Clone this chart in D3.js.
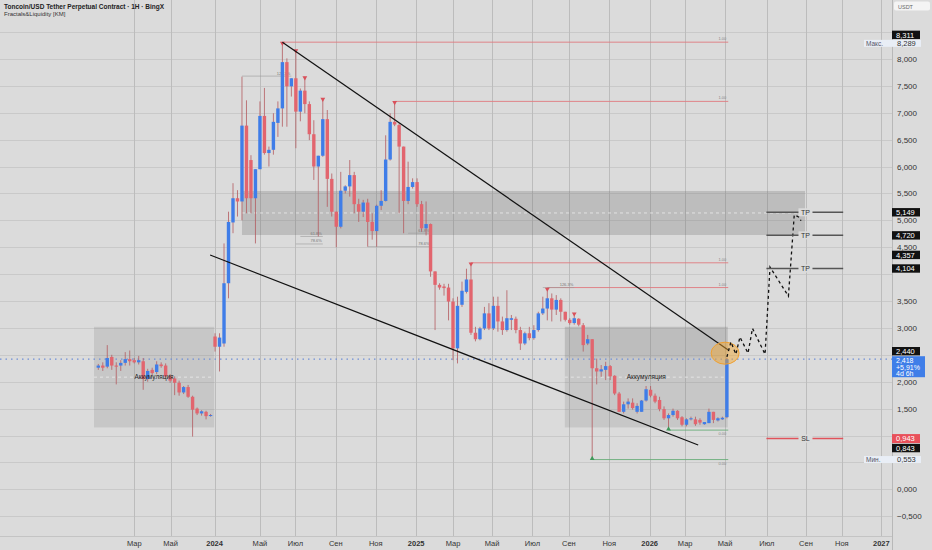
<!DOCTYPE html>
<html>
<head>
<meta charset="utf-8">
<script src="https://cdn.jsdelivr.net/npm/d3@7"></script>
<style>
  body { margin: 0; background: #dbdbdb; }
  svg { display: block; font-family: "Liberation Sans", Arial, sans-serif; }
</style>
</head>
<body>
<div id="chart"></div>
<script>
var W = 932, H = 550;
var plotRight = 892, axisBottom = 536;

// weekly candles, index 0..140
var open = [
2.26,2.30,2.28,2.46,2.30,2.30,2.35,2.42,2.40,2.36,
2.38,2.05,2.22,2.18,2.32,2.30,2.10,2.06,1.98,1.80,
1.90,1.72,1.50,1.41,1.44,1.37,2.84,2.65,2.71,3.83,
4.96,5.41,5.35,6.76,6.12,5.41,5.95,6.94,6.25,6.31,
6.81,7.08,7.94,7.49,7.64,7.02,7.41,7.16,6.60,6.00,
6.20,6.88,5.77,5.16,4.88,5.55,5.63,5.84,5.30,5.16,
5.33,4.97,4.80,5.27,5.36,6.13,6.83,6.77,6.37,5.36,
5.62,5.71,5.30,4.85,4.93,4.05,3.80,3.77,3.75,3.49,
2.62,3.43,3.67,3.90,2.91,2.79,2.99,3.27,2.99,3.41,
3.12,2.96,3.15,3.17,2.96,2.71,2.90,2.81,2.96,3.27,
3.36,3.55,3.34,3.52,3.30,3.15,3.09,3.17,3.05,2.71,
2.79,2.25,2.19,2.22,2.29,2.11,1.78,1.44,1.58,1.61,
1.44,1.44,1.65,1.85,1.74,1.66,1.49,1.32,1.38,1.46,
1.34,1.20,1.30,1.30,1.29,1.21,1.23,1.44,1.28,1.30,
1.34];
var high = [
2.33,2.36,2.68,2.50,2.36,2.40,2.55,2.58,2.44,2.48,
2.44,2.24,2.26,2.38,2.36,2.34,2.14,2.10,2.02,1.92,
1.94,1.74,1.52,1.47,1.46,1.40,2.90,2.90,4.57,5.16,
5.69,5.56,7.67,7.23,6.21,5.95,7.21,7.46,6.37,6.99,
7.21,8.311,8.01,7.64,8.17,7.45,7.67,7.21,6.86,6.20,
7.27,7.05,5.87,5.16,5.90,5.65,6.12,5.90,5.40,5.38,
5.40,5.13,5.29,5.56,6.58,6.99,7.21,6.80,6.37,6.09,
5.78,5.78,5.36,5.35,4.94,4.05,3.83,3.82,3.82,3.55,
3.58,3.86,4.10,4.21,3.02,3.02,3.39,3.46,3.58,3.58,
3.21,3.70,3.24,3.21,3.02,2.93,3.02,3.05,3.30,3.58,
3.74,3.64,3.61,3.55,3.30,3.18,3.28,3.18,3.09,2.87,
2.79,2.43,2.31,2.37,2.31,2.12,1.81,1.63,1.69,1.69,
1.60,1.66,1.92,1.92,1.78,1.72,1.54,1.41,1.50,1.47,
1.36,1.32,1.35,1.35,1.32,1.25,1.50,1.44,1.34,1.35,
2.44];
var low = [
2.22,2.20,2.25,2.22,1.95,2.20,2.30,2.30,2.34,2.32,
1.85,2.00,2.12,2.14,2.26,2.08,1.98,1.75,1.74,1.77,
1.70,0.98,1.38,1.37,1.30,1.35,2.56,2.19,2.65,3.55,
4.76,5.07,5.00,5.13,5.13,4.57,5.95,6.22,6.00,6.22,
6.55,6.74,6.74,7.30,6.34,6.84,6.99,6.49,5.75,4.70,
6.18,5.25,5.07,4.50,4.85,5.50,5.44,5.13,4.97,5.06,
4.51,4.64,4.51,5.19,5.35,6.11,6.75,5.13,4.76,5.30,
5.59,5.25,4.79,4.72,3.95,2.96,3.71,3.60,3.14,2.40,
2.34,3.39,3.64,2.87,2.75,2.77,2.96,2.96,2.96,2.93,
2.87,2.93,2.96,2.90,2.59,2.68,2.77,2.78,2.93,3.24,
3.14,3.12,3.24,3.12,3.12,3.06,3.06,3.03,2.56,2.68,
0.553,1.95,2.09,2.03,2.03,1.75,1.44,1.41,1.50,1.48,
1.41,1.44,1.63,1.71,1.60,1.45,1.29,1.10,1.35,1.29,
1.17,1.17,1.28,1.18,1.20,1.20,1.23,1.23,1.26,1.29,
1.32];
var close = [
2.30,2.26,2.44,2.30,2.28,2.35,2.42,2.38,2.36,2.40,
2.05,2.20,2.16,2.32,2.29,2.10,2.02,1.98,1.80,1.90,
1.72,1.48,1.41,1.45,1.36,1.38,2.65,2.82,3.83,4.97,
5.41,5.35,6.76,5.41,5.41,5.95,6.94,6.25,6.31,6.83,
7.08,7.94,7.49,7.64,7.02,7.41,7.16,6.60,6.00,6.20,
6.88,5.77,5.16,4.88,5.55,5.63,5.84,5.30,5.16,5.33,
4.97,4.80,5.27,5.36,6.13,6.83,6.78,6.37,5.36,5.62,
5.71,5.30,4.85,4.93,4.05,3.80,3.75,3.74,3.49,2.62,
3.41,3.69,3.90,2.91,2.79,2.99,3.27,2.99,3.41,3.12,
2.96,3.18,3.18,2.96,2.71,2.90,2.81,2.96,3.27,3.36,
3.55,3.34,3.52,3.30,3.15,3.09,3.18,3.06,2.68,2.79,
2.25,2.19,2.23,2.29,2.10,1.78,1.44,1.58,1.63,1.51,
1.55,1.65,1.86,1.74,1.63,1.49,1.32,1.38,1.46,1.32,
1.20,1.30,1.32,1.21,1.24,1.25,1.44,1.29,1.32,1.33,
2.418];

// time axis (in bar index units)
var xTickPos = [8.0,16.1,25.9,36.0,43.9,52.9,61.8,70.8,79.0,87.7,96.7,104.8,113.8,122.8,130.7,139.6,148.9,157.6,165.6,174.4];
var xTickLabels = ["Мар","Май","2024","Май","Июл","Сен","Ноя","2025","Мар","Май","Июл","Сен","Ноя","2026","Мар","Май","Июл","Сен","Ноя","2027"];
var yTicks = [-0.5,0,0.5,1,1.5,2,2.5,3,3.5,4,4.5,5,5.5,6,6.5,7,7.5,8,8.5];

// fractal markers
var hiMarks = [41,44,46,50,66,83,100,106];
var loMarks = [110,127];
// liquidity levels [from index, value]
var redLevels = [[41,8.311],[66,7.21],[83,4.21],[100,3.75]];
var greenLevels = [[110,0.553],[127,1.10]];
var levelEnd = 140.3;

// zones [i0, i1, top, bottom, label]
var zones = [[-0.96,25.8,3.02,1.15,"Аккумуляция"],[32.0,157.4,5.545,4.727,""],[103.9,140.2,3.02,1.15,"Аккумуляция"]];

// trend lines [i0, v0, i1, v1]
var trendLines = [[41,8.311,140.3,2.59],[24.9,4.355,133.6,0.823]];

// projected path
var projIdx = [140,140.9,142.0,142.9,144.7,145.7,148.5,149.6,153.7,155.0,156.1,156.5];
var projVal = [2.46,2.74,2.51,2.83,2.53,2.99,2.51,4.13,3.59,5.10,5.06,4.99];

// targets
var tpValues = [5.149,4.720,4.104];
var slValue = 0.943;
var tgtFrom = 148.8, tgtTo = 165.9, tgtLabelAt = 157.5;

// right scale badges
var blackBadges = [8.311,5.149,4.720,4.357,4.104,2.440,0.843];
var lastPrice = 2.418, lastChange = "+5,91%", lastTimer = "4d 6h";
var slBadge = 0.943;
var maxVal = 8.289, minVal = 0.553;

var x = d3.scaleLinear().domain([0,140]).range([98.3, 98.3 + 140*4.49]);
var y = d3.scaleLinear().domain([0,8]).range([489.3, 58.9]);
var fmt = function(v) { return d3.format(".3f")(v).replace(".", ","); };

var blue = "#3f7de8", red = "#e2656e", wick = "#b45a60";

var svg = d3.select("#chart").append("svg")
  .attr("width", W).attr("height", H);

svg.append("rect").attr("width", W).attr("height", H).attr("fill", "#dbdbdb");

svg.append("clipPath").attr("id", "plot")
  .append("rect").attr("width", plotRight).attr("height", axisBottom);

var g = svg.append("g").attr("clip-path", "url(#plot)");

// grid
g.selectAll(".hg").data(yTicks).enter().append("line")
  .attr("x1", 0).attr("x2", plotRight)
  .attr("y1", function(d) { return Math.round(y(d)) + 0.5; })
  .attr("y2", function(d) { return Math.round(y(d)) + 0.5; })
  .attr("stroke", "#c9c9c9").attr("stroke-width", 1);
g.selectAll(".vg").data(xTickPos).enter().append("line")
  .attr("x1", function(d) { return Math.round(x(d)) + 0.5; })
  .attr("x2", function(d) { return Math.round(x(d)) + 0.5; })
  .attr("y1", 0).attr("y2", axisBottom)
  .attr("stroke", "#bcbcbc").attr("stroke-width", 1);

// zones
zones.forEach(function(z, k) {
  g.append("rect")
    .attr("x", x(z[0])).attr("y", y(z[2]))
    .attr("width", x(z[1]) - x(z[0])).attr("height", y(z[3]) - y(z[2]))
    .attr("fill", k == 1 ? "rgba(95,95,95,0.24)" : "rgba(110,110,110,0.18)");
  g.append("line")
    .attr("x1", x(z[0])).attr("x2", x(z[1]))
    .attr("y1", (y(z[2]) + y(z[3])) / 2).attr("y2", (y(z[2]) + y(z[3])) / 2)
    .attr("stroke", "#ececec").attr("stroke-dasharray", "3,3").attr("stroke-width", 0.8);
});

// upper part of right zone slightly darker
g.append("rect")
  .attr("x", x(103.9)).attr("y", y(3.02))
  .attr("width", x(140.2) - x(103.9)).attr("height", y(2.45) - y(3.02))
  .attr("fill", "rgba(110,110,110,0.10)");

// liquidity levels
redLevels.forEach(function(l) {
  g.append("line").attr("x1", x(l[0])).attr("x2", x(levelEnd))
    .attr("y1", y(l[1])).attr("y2", y(l[1]))
    .attr("stroke", "#e07a80").attr("stroke-width", 0.9);
  g.append("text").attr("x", x(levelEnd) - 2).attr("y", y(l[1]) - 2)
    .attr("text-anchor", "end").attr("font-size", 4).attr("fill", "#888").text("1.00");
});
greenLevels.forEach(function(l) {
  g.append("line").attr("x1", x(l[0])).attr("x2", x(levelEnd))
    .attr("y1", y(l[1])).attr("y2", y(l[1]))
    .attr("stroke", "#6aae7a").attr("stroke-width", 0.9);
  g.append("text").attr("x", x(levelEnd) - 2).attr("y", y(l[1]) + 5)
    .attr("text-anchor", "end").attr("font-size", 4).attr("fill", "#888").text("0.00");
});

// small fib notes
var notes = [[32,43,7.68,"126.3%"],[45,50,4.70,"61.8%"],[44,50,4.56,"78.6%"],[69,74,4.76,"61.8%"],[60,74,4.51,"78.6%"],[99,106,3.75,"126.3%"]];
notes.forEach(function(n) {
  g.append("line").attr("x1", x(n[0])).attr("x2", x(n[1]))
    .attr("y1", y(n[2])).attr("y2", y(n[2]))
    .attr("stroke", "#9a9a9a").attr("stroke-width", 0.6);
  g.append("text").attr("x", x(n[1]) - 1).attr("y", y(n[2]) - 1.5)
    .attr("text-anchor", "end").attr("font-size", 4).attr("fill", "#777").text(n[3]);
});

// last price dotted line
g.append("line").attr("x1", 0).attr("x2", plotRight)
  .attr("y1", y(lastPrice)).attr("y2", y(lastPrice))
  .attr("stroke", "#6f8fd8").attr("stroke-width", 1.2).attr("stroke-dasharray", "1.5,4");

// candles
var idx = d3.range(open.length);
g.selectAll(".wick").data(idx).enter().append("line")
  .attr("x1", function(i) { return x(i); }).attr("x2", function(i) { return x(i); })
  .attr("y1", function(i) { return y(high[i]); }).attr("y2", function(i) { return y(low[i]); })
  .attr("stroke", wick).attr("stroke-width", 0.8);
g.selectAll(".body").data(idx).enter().append("rect")
  .attr("x", function(i) { return x(i) - 1.7; })
  .attr("width", 3.4)
  .attr("y", function(i) { return y(Math.max(open[i], close[i])); })
  .attr("height", function(i) { return Math.max(1, Math.abs(y(open[i]) - y(close[i]))); })
  .attr("fill", function(i) { return close[i] >= open[i] ? blue : red; });

// fractal markers
g.selectAll(".hm").data(hiMarks).enter().append("path")
  .attr("d", d3.symbol(d3.symbolTriangle, 10))
  .attr("transform", function(i) { return "translate(" + x(i) + "," + (y(high[i]) + 1) + ") rotate(180)"; })
  .attr("fill", "#d9505a");
g.selectAll(".lm").data(loMarks).enter().append("path")
  .attr("d", d3.symbol(d3.symbolTriangle, 10))
  .attr("transform", function(i) { return "translate(" + x(i) + "," + (y(low[i]) - 1) + ")"; })
  .attr("fill", "#3f9a5a");

// zone labels
zones.forEach(function(z) {
  if (!z[4]) return;
  g.append("text").attr("x", (x(z[0]) + x(z[1])) / 2).attr("y", (y(z[2]) + y(z[3])) / 2 + 2)
    .attr("text-anchor", "middle").attr("font-size", 6.5).attr("fill", "#222").text(z[4]);
});

// trend lines
trendLines.forEach(function(t) {
  g.append("line").attr("x1", x(t[0])).attr("y1", y(t[1])).attr("x2", x(t[2])).attr("y2", y(t[3]))
    .attr("stroke", "#111").attr("stroke-width", 1.2);
});

// highlight circle
g.append("ellipse").attr("cx", x(139.6)).attr("cy", y(2.53)).attr("rx", 14).attr("ry", 11)
  .attr("fill", "rgba(245,165,40,0.45)").attr("stroke", "#f0a030").attr("stroke-width", 1);

// projected path
var proj = d3.line().x(function(d) { return x(d[0]); }).y(function(d) { return y(d[1]); });
g.append("path").datum(d3.zip(projIdx, projVal)).attr("d", proj)
  .attr("fill", "none").attr("stroke", "#111").attr("stroke-width", 1.3).attr("stroke-dasharray", "3,3");

// targets
function target(v, label, col) {
  g.append("line").attr("x1", x(tgtFrom)).attr("x2", x(tgtTo)).attr("y1", y(v)).attr("y2", y(v))
    .attr("stroke", col).attr("stroke-width", 1.5);
  g.append("rect").attr("x", x(tgtLabelAt) - 7).attr("y", y(v) - 4).attr("width", 14).attr("height", 8)
    .attr("fill", "#dbdbdb");
  g.append("text").attr("x", x(tgtLabelAt)).attr("y", y(v) + 2.5).attr("text-anchor", "middle")
    .attr("font-size", 7).attr("fill", "#333").text(label);
}
tpValues.forEach(function(v) { target(v, "TP", "#555"); });
target(slValue, "SL", "#e0535b");

// axes separators
svg.append("line").attr("x1", plotRight + 0.5).attr("x2", plotRight + 0.5).attr("y1", 0).attr("y2", H)
  .attr("stroke", "#b8b8b8");
svg.append("line").attr("x1", 0).attr("x2", plotRight).attr("y1", axisBottom + 0.5).attr("y2", axisBottom + 0.5)
  .attr("stroke", "#c4c4c4");

// badge placement, pushed off fixed labels
var fixed = [[y(maxVal) - 3.5, y(maxVal) + 3.5], [y(lastPrice) - 3, y(lastPrice) + 18],
             [y(slBadge) - 4.5, y(slBadge) + 4.5], [y(minVal) - 3.5, y(minVal) + 3.5]];
var placed = [];
blackBadges.forEach(function(v) {
  var cy = y(v), hh = 4.2;
  fixed.forEach(function(f) {
    if (cy + hh > f[0] && cy - hh < f[1]) {
      cy = (cy < (f[0] + f[1]) / 2) ? f[0] - hh - 0.8 : f[1] + hh + 0.8;
    }
  });
  placed.push([cy - hh, cy + hh, v]);
});
var occupied = fixed.concat(placed);

// y labels (hidden where a badge covers them)
svg.selectAll(".yl").data(yTicks.filter(function(t) {
    var ty = y(t);
    return occupied.every(function(o) { return ty + 2.5 < o[0] || ty - 2.5 > o[1]; });
  })).enter().append("text")
  .attr("x", 897).attr("y", function(d) { return y(d) + 3; })
  .attr("font-size", 8).attr("fill", "#333").text(fmt);

// x labels
svg.selectAll(".xl").data(xTickPos).enter().append("text")
  .attr("x", function(d) { return x(d); }).attr("y", 546)
  .attr("text-anchor", "middle").attr("font-size", 7.5)
  .attr("font-weight", function(d, i) { return /^\d/.test(xTickLabels[i]) ? "bold" : "normal"; })
  .attr("fill", "#333").text(function(d, i) { return xTickLabels[i]; });

// max / min labels
function extremum(v, label) {
  svg.append("rect").attr("x", 864).attr("y", y(v) - 3.5).attr("width", 57).attr("height", 7)
    .attr("fill", "#e9eef6");
  svg.append("text").attr("x", 866).attr("y", y(v) + 2.5).attr("font-size", 6.5).attr("fill", "#556").text(label);
  svg.append("text").attr("x", 897).attr("y", y(v) + 2.8).attr("font-size", 7.5).attr("fill", "#333").text(fmt(v));
}
extremum(maxVal, "Макс.");
extremum(minVal, "Мин.");

placed.forEach(function(p) {
  svg.append("rect").attr("x", 892).attr("y", p[0]).attr("width", 28).attr("height", p[1] - p[0]).attr("fill", "#111");
  svg.append("text").attr("x", 896).attr("y", (p[0] + p[1]) / 2 + 2.8).attr("font-size", 7.5).attr("fill", "#fff").text(fmt(p[2]));
});
svg.append("rect").attr("x", 892).attr("y", y(slBadge) - 4.5).attr("width", 28).attr("height", 9).attr("fill", "#e8505a");
svg.append("text").attr("x", 896).attr("y", y(slBadge) + 2.8).attr("font-size", 7.5).attr("fill", "#fff").text(fmt(slBadge));

var lb = svg.append("g").attr("transform", "translate(892," + (y(lastPrice) - 3) + ")");
lb.append("rect").attr("width", 33).attr("height", 21).attr("fill", "#3f7ee8");
[fmt(lastPrice), lastChange, lastTimer].forEach(function(t, i) {
  lb.append("text").attr("x", 4).attr("y", 6.5 + i * 6.8).attr("font-size", 7).attr("fill", "#fff").text(t);
});

// currency box
svg.append("rect").attr("x", 894).attr("y", 1.5).attr("width", 36).attr("height", 9).attr("rx", 2)
  .attr("fill", "#f4f4f4");
svg.append("text").attr("x", 898).attr("y", 8.5).attr("font-size", 5.5).attr("fill", "#666").text("USDT");

// title
svg.append("text").attr("x", 4).attr("y", 8.5).attr("font-size", 6.5).attr("font-weight", "bold").attr("fill", "#222")
  .text("Toncoin/USD Tether Perpetual Contract · 1Н · BingX");
svg.append("text").attr("x", 4).attr("y", 15.5).attr("font-size", 6).attr("fill", "#333")
  .text("Fractals&Liquidity [KM]");
</script>
</body>
</html>
